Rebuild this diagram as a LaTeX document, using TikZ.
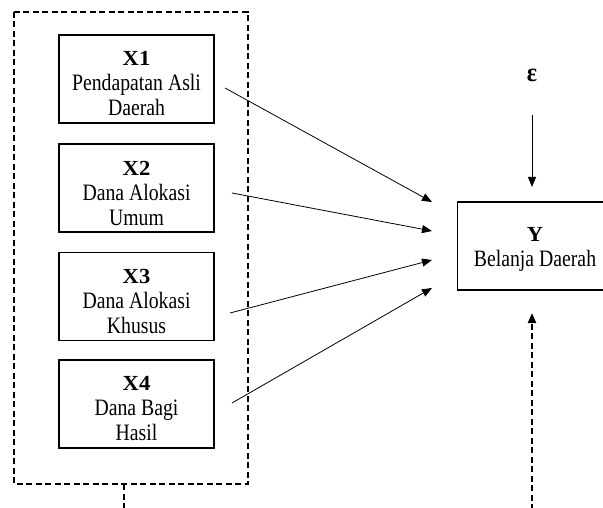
\documentclass[tikz,border=0pt]{standalone}
\usepackage{fontspec}
\setmainfont{Liberation Serif}
\usetikzlibrary{arrows.meta}
\newcommand{\hd}[1]{\scalebox{1.05}[1]{\fontsize{21.5}{21.5}\selectfont\bfseries #1}}
\newcommand{\lbl}[1]{\scalebox{0.84}[1]{\fontsize{23.5}{25}\selectfont #1}}
\begin{document}
\begin{tikzpicture}[x=1pt,y=-1pt,
  varbox/.style={draw,line width=1.3pt,minimum width=155pt,minimum height=88pt,inner sep=0pt},
  boxtext/.style={align=center,inner sep=0pt,font=\fontsize{23.5}{25}\selectfont},
  thinarrow/.style={line width=0.8pt,-{Triangle[length=10pt,width=8pt]}},
  groupline/.style={line width=2.2pt,dash pattern=on 6pt off 3.5pt}]
\useasboundingbox (0,0) rectangle (603,508);
\clip (0,0) rectangle (603,508);
\node[minimum width=233pt,minimum height=472pt,inner sep=0pt] (grp) at (131,248) {};
\draw[groupline] (grp.north west) rectangle (grp.south east);
\node[varbox] (x1) at (136.5,79) {};
\node[varbox] (x2) at (136.5,188) {};
\node[varbox] (x3) at (136.5,296.5) {};
\node[varbox] (x4) at (136.5,404) {};
\node[varbox] (y) at (535,246) {};
\node[boxtext] (x1t) at ([yshift=-5pt]x1.center) {\hd{X1}\\\lbl{Pendapatan Asli}\\\lbl{Daerah}};
\node[boxtext] (x2t) at ([yshift=-5pt]x2.center) {\hd{X2}\\\lbl{Dana Alokasi}\\\lbl{Umum}};
\node[boxtext] (x3t) at ([yshift=-5pt]x3.center) {\hd{X3}\\\lbl{Dana Alokasi}\\\lbl{Khusus}};
\node[boxtext] (x4t) at ([yshift=-5pt]x4.center) {\hd{X4}\\\lbl{Dana Bagi}\\\lbl{Hasil}};
\node[boxtext] (yt) at ([yshift=-3pt]y.center) {\hd{Y}\\\lbl{Belanja Daerah}};
\node[font=\fontsize{24}{26}\selectfont\bfseries,inner sep=0pt] (eps) at (532,75) {\scalebox{1}[1.1]{ε}};
\coordinate (s1) at (225,88);
\coordinate (s2) at (232,193);
\coordinate (s3) at (230,313);
\coordinate (s4) at (232,403);
\coordinate (t1) at (432,202);
\coordinate (t2) at (432,231);
\coordinate (t3) at (432,260);
\coordinate (t4) at (432,288);
\draw[thinarrow] (s1) -- (t1);
\draw[thinarrow] (s2) -- (t2);
\draw[thinarrow] (s3) -- (t3);
\draw[thinarrow] (s4) -- (t4);
\coordinate (e1) at (532,115);
\coordinate (e2) at (532,187);
\draw[thinarrow] (e1) -- (e2);
\coordinate (b1) at (532,510);
\coordinate (b2) at (532,313);
\draw[groupline,-{Triangle[length=10pt,width=8pt]}] (b1) -- (b2);
\coordinate (g1) at (124,510);
\draw[groupline] (grp.south -| g1) -- (g1);
\end{tikzpicture}
\end{document}
